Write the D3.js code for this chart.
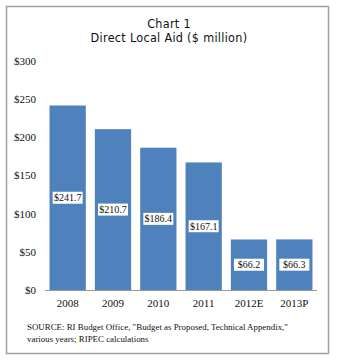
<!DOCTYPE html>
<html>
<head>
<meta charset="utf-8">
<script src="https://cdn.jsdelivr.net/npm/d3@7"></script>
<style>
  body { margin: 0; background: #fff; }
  svg { display: block; }
</style>
</head>
<body>
<div id="chart"></div>
<script>
// Direct local aid by fiscal year, $ million
var years  = ["2008", "2009", "2010", "2011", "2012E", "2013P"];
var aid    = [241.7, 210.7, 186.4, 167.1, 66.2, 66.3];
var yTicks = [0, 50, 100, 150, 200, 250, 300];
var titleLines  = ["Chart 1", "Direct Local Aid ($ million)"];
var sourceLines = ["SOURCE: RI Budget Office, \"Budget as Proposed, Technical Appendix,\"",
                   "various years; RIPEC calculations"];

var W = 341, H = 363,
    serif = "'Liberation Serif', 'Times New Roman', serif",
    narrow = "'Liberation Sans Narrow', 'Arial Narrow', 'DejaVu Sans Condensed', sans-serif",
    x = d3.scaleBand().domain(years).range([45, 317]).paddingInner(0.2).paddingOuter(0.1),
    y = d3.scaleLinear().domain([0, 300]).range([290, 61]),
    money = function(v) { return "$" + d3.format(".1f")(v); };

var vis = d3.select("#chart")
  .append("svg")
  .attr("width", W)
  .attr("height", H);

// frame
vis.append("rect")
  .attr("x", 6.5).attr("y", 6.5)
  .attr("width", 322).attr("height", 347)
  .style("fill", "#fff")
  .style("stroke", "#a0a0a0")
  .style("stroke-width", 1.5);

vis.selectAll(".title")
  .data(titleLines)
  .enter()
  .append("text")
  .attr("class", "title")
  .attr("x", 169)
  .attr("y", function(d, i) { return 28 + i * 14; })
  .attr("text-anchor", "middle")
  .style("font", "12.5px " + narrow)
  .style("letter-spacing", "0.3px")
  .style("fill", "#111")
  .text(function(d) { return d; });

// y axis labels, no line
vis.selectAll(".ylabel")
  .data(yTicks)
  .enter()
  .append("text")
  .attr("class", "ylabel")
  .attr("x", 36)
  .attr("y", function(d) { return y(d); })
  .attr("dy", ".35em")
  .attr("text-anchor", "end")
  .style("font", "11px " + serif)
  .style("fill", "#111")
  .text(function(d) { return "$" + d; });

vis.selectAll(".bar")
  .data(aid)
  .enter()
  .append("rect")
  .attr("class", "bar")
  .attr("x", function(d, i) { return x(years[i]); })
  .attr("y", function(d) { return y(d); })
  .attr("width", x.bandwidth())
  .attr("height", function(d) { return y(0) - y(d); })
  .style("fill", "#4f81bd");

vis.append("line")
  .attr("x1", 45).attr("x2", 317)
  .attr("y1", y(0) + 0.5).attr("y2", y(0) + 0.5)
  .style("stroke", "#999")
  .style("stroke-width", 1);

// value tags in the middle of each bar
var tags = vis.selectAll(".tag")
  .data(aid)
  .enter()
  .append("g")
  .attr("class", "tag")
  .attr("transform", function(d, i) {
    return "translate(" + (x(years[i]) + x.bandwidth() / 2) + "," + ((y(d) + y(0)) / 2) + ")";
  });

tags.append("rect")
  .attr("x", -15).attr("y", -6)
  .attr("width", 30).attr("height", 12)
  .style("fill", "#fff");

tags.append("text")
  .attr("dy", ".35em")
  .attr("text-anchor", "middle")
  .style("font", "10px " + serif)
  .style("fill", "#111")
  .text(money);

vis.selectAll(".xlabel")
  .data(years)
  .enter()
  .append("text")
  .attr("class", "xlabel")
  .attr("x", function(d) { return x(d) + x.bandwidth() / 2; })
  .attr("y", 307)
  .attr("text-anchor", "middle")
  .style("font", "11px " + serif)
  .style("fill", "#111")
  .text(function(d) { return d; });

vis.selectAll(".source")
  .data(sourceLines)
  .enter()
  .append("text")
  .attr("class", "source")
  .attr("x", 27)
  .attr("y", function(d, i) { return 330 + i * 12; })
  .style("font", "8.9px " + serif)
  .style("fill", "#111")
  .text(function(d) { return d; });
</script>
</body>
</html>
